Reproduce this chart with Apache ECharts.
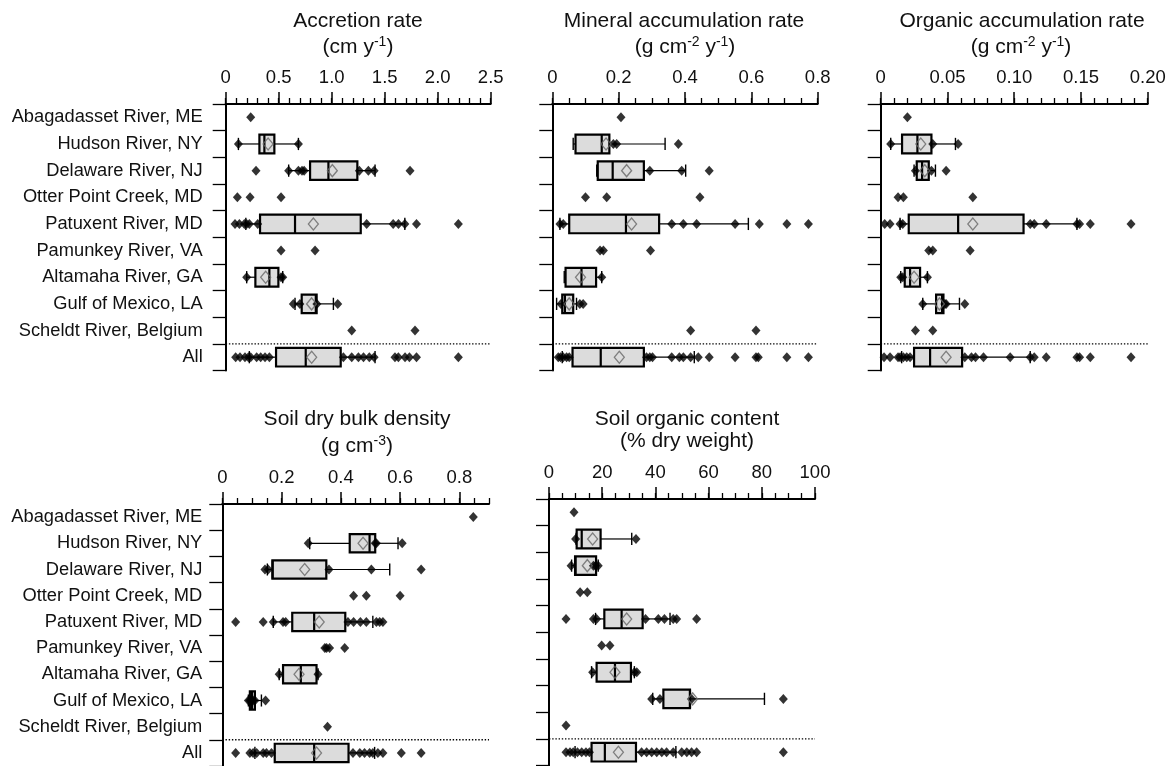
<!DOCTYPE html>
<html>
<head>
<meta charset="utf-8">
<script src="https://cdn.jsdelivr.net/npm/echarts@6/dist/echarts.min.js"></script>
<style>
html,body{margin:0;padding:0;background:#fff;}
#chart{width:1170px;height:766px;}
</style>
</head>
<body>
<div id="chart"></div>
<script>
// ---------- data ----------
const categories = ['Abagadasset River, ME', 'Hudson River, NY', 'Delaware River, NJ', 'Otter Point Creek, MD',
  'Patuxent River, MD', 'Pamunkey River, VA', 'Altamaha River, GA', 'Gulf of Mexico, LA', 'Scheldt River, Belgium', 'All'];

// Accretion rate (cm/y): [whisker low, Q1, median, Q3, whisker high]
const accBox = [null, [0.12, 0.318, 0.365, 0.459, 0.686], [0.594, 0.796, 0.969, 1.242, 1.409], null,
  [0.19, 0.324, 0.654, 1.274, 1.69], null, [0.198, 0.28, 0.412, 0.497, 0.538], [0.654, 0.717, 0.85, 0.858, 1.016],
  null, [0.223, 0.475, 0.755, 1.085, 1.409]];
const accMean = [null, 0.40, 1.006, null, 0.827, null, 0.377, 0.81, null, 0.811];
const accPts = [
  [0.236],
  [0.12, 0.686],
  [0.286, 0.594, 0.686, 0.72, 0.74, 1.261, 1.346, 1.40, 1.739],
  [0.11, 0.23, 0.522],
  [0.088, 0.129, 0.176, 0.198, 0.223, 0.302, 1.33, 1.58, 1.63, 1.69, 1.80, 2.195],
  [0.522, 0.843],
  [0.198, 0.522, 0.538],
  [0.638, 0.70, 0.86, 1.057],
  [1.189, 1.786],
  [0.094, 0.135, 0.182, 0.214, 0.236, 0.292, 0.33, 0.371, 0.412, 1.11, 1.189, 1.252, 1.30, 1.355, 1.40, 1.597, 1.629, 1.692, 1.733, 1.80, 2.195]
];
const accTicks = ['0', '0.5', '1.0', '1.5', '2.0', '2.5'];

// Mineral accumulation rate
const minBox = [null, [0.063, 0.070, 0.149, 0.172, 0.340], [0.134, 0.137, 0.182, 0.276, 0.402], null,
  [0.023, 0.051, 0.222, 0.322, 0.591], null, [0.036, 0.040, 0.088, 0.132, 0.149], [0.013, 0.030, 0.038, 0.063, 0.073],
  null, [0.030, 0.061, 0.146, 0.276, 0.428]];
const minMean = [null, 0.162, 0.224, null, 0.239, null, 0.085, 0.051, null, 0.202];
const minPts = [
  [0.207],
  [0.184, 0.194, 0.38],
  [0.294, 0.39, 0.473],
  [0.10, 0.164, 0.445],
  [0.023, 0.033, 0.36, 0.395, 0.435, 0.551, 0.624, 0.707, 0.772],
  [0.144, 0.154, 0.296],
  [0.149],
  [0.026, 0.083, 0.093],
  [0.417, 0.614],
  [0.018, 0.025, 0.033, 0.043, 0.051, 0.284, 0.294, 0.302, 0.36, 0.383, 0.395, 0.417, 0.44, 0.473, 0.551, 0.614, 0.621, 0.707, 0.772]
];
const minTicks = ['0', '0.2', '0.4', '0.6', '0.8'];

// Organic accumulation rate
const orgBox = [null, [0.0075, 0.016, 0.0275, 0.038, 0.056], [0.025, 0.027, 0.031, 0.036, 0.041], null,
  [0.0145, 0.021, 0.058, 0.107, 0.147], null, [0.015, 0.018, 0.022, 0.0295, 0.035], [0.0315, 0.0415, 0.046, 0.047, 0.059],
  null, [0.0157, 0.025, 0.037, 0.061, 0.112]];
const orgMean = [null, 0.030, 0.033, null, 0.069, null, 0.025, 0.044, null, 0.049];
const orgPts = [
  [0.020],
  [0.0075, 0.039, 0.058],
  [0.026, 0.038, 0.049],
  [0.013, 0.017, 0.069],
  [0.003, 0.007, 0.0145, 0.0165, 0.112, 0.115, 0.124, 0.147, 0.149, 0.157, 0.1875],
  [0.036, 0.039, 0.067],
  [0.015, 0.0165, 0.035],
  [0.0315, 0.048, 0.049, 0.063],
  [0.026, 0.039],
  [0.0025, 0.007, 0.013, 0.0145, 0.017, 0.0195, 0.022, 0.063, 0.068, 0.071, 0.077, 0.097, 0.112, 0.115, 0.124, 0.147, 0.149, 0.157, 0.1875]
];
const orgTicks = ['0', '0.05', '0.10', '0.15', '0.20'];

// Soil dry bulk density
const bdBox = [null, [0.295, 0.43, 0.497, 0.516, 0.593], [0.152, 0.169, 0.17, 0.351, 0.565], null,
  [0.172, 0.236, 0.31, 0.415, 0.508], null, [0.192, 0.205, 0.265, 0.318, 0.323], [0.088, 0.093, 0.10, 0.11, 0.132],
  null, [0.11, 0.177, 0.31, 0.426, 0.514]];
const bdMean = [null, 0.475, 0.278, null, 0.327, null, 0.259, null, null, 0.318];
const bdPts = [
  [0.847],
  [0.29, 0.516, 0.52, 0.607],
  [0.144, 0.155, 0.36, 0.503, 0.671],
  [0.443, 0.486, 0.60],
  [0.045, 0.138, 0.172, 0.205, 0.214, 0.424, 0.443, 0.466, 0.486, 0.52, 0.531, 0.542],
  [0.346, 0.352, 0.362, 0.413],
  [0.192, 0.323],
  [0.088, 0.093, 0.098, 0.104, 0.11, 0.146],
  [0.355],
  [0.045, 0.093, 0.104, 0.116, 0.138, 0.149, 0.166, 0.441, 0.464, 0.48, 0.497, 0.508, 0.525, 0.542, 0.604, 0.671]
];
const bdTicks = ['0', '0.2', '0.4', '0.6', '0.8'];

// Soil organic content (% dry weight)
const ocBox = [null, [10.2, 10.4, 12.3, 19.4, 31.1], [8.5, 9.8, 10.0, 17.7, 18.5], null,
  [17.5, 20.8, 27.3, 35.2, 45.5], null, [16.0, 17.9, 24.8, 30.8, 32.1], [39.0, 43.0, 53.0, 53.0, 81.0],
  null, [9.8, 16.0, 21.0, 32.7, 47.7]];
const ocMean = [null, 16.4, 14.4, null, 29.2, null, 24.8, 54.0, null, 26.1];
const ocPts = [
  [9.4],
  [10.0, 32.7],
  [8.3, 16.7, 17.5, 18.5],
  [11.7, 14.4],
  [6.4, 16.7, 17.9, 36.3, 41.1, 43.4, 46.7, 48.0, 55.5],
  [19.8, 22.9],
  [16.4, 32.1, 33.0],
  [38.6, 41.7, 53.6, 88.1],
  [6.4],
  [6.4, 7.9, 9.1, 10.7, 12.3, 13.9, 15.2, 34.8, 36.7, 38.6, 40.5, 42.4, 44.2, 46.7, 49.9, 51.8, 53.6, 55.5, 88.1]
];
const ocTicks = ['0', '20', '40', '60', '80', '100'];

// ---------- layout / styles ----------
const FONT = "'Liberation Sans', Arial, Helvetica, sans-serif";
const panels = [
  {box: accBox, mean: accMean, pts: accPts, ticks: accTicks, max: 2.5, major: 0.5, minor: 0.1,
   grid: {left: 225.7, top: 104, width: 265, height: 266.5}, labels: true, labelMargin: 23},
  {box: minBox, mean: minMean, pts: minPts, ticks: minTicks, max: 0.8, major: 0.2, minor: 0.05,
   grid: {left: 552.3, top: 104, width: 265.4, height: 266.5}, labels: false},
  {box: orgBox, mean: orgMean, pts: orgPts, ticks: orgTicks, max: 0.2, major: 0.05, minor: 0.01,
   grid: {left: 880.7, top: 104, width: 267, height: 266.5}, labels: false},
  {box: bdBox, mean: bdMean, pts: bdPts, ticks: bdTicks, max: 0.9, major: 0.2, minor: 0.05,
   grid: {left: 222.3, top: 504, width: 266.7, height: 266.5}, labels: true, labelMargin: 20},
  {box: ocBox, mean: ocMean, pts: ocPts, ticks: ocTicks, max: 100, major: 20, minor: 5,
   grid: {left: 549, top: 499, width: 266, height: 266.5}, labels: false}
];

const grids = [], xAxes = [], yAxes = [], series = [];
panels.forEach((p, i) => {
  grids.push(Object.assign({containLabel: false}, p.grid));
  // main axis: line, labels, short (minor) ticks
  xAxes.push({
    type: 'value', gridIndex: i, position: 'top', min: 0, max: p.max, interval: p.minor,
    axisLine: {show: true, onZero: false, lineStyle: {color: '#000', width: 2}},
    axisTick: {show: true, length: 6, lineStyle: {color: '#000', width: 1.3}},
    splitLine: {show: false},
    axisLabel: {
      show: true, margin: 17, fontSize: 18.5, fontFamily: FONT, color: '#111',
      formatter: (v) => {
        const k = Math.round(v / p.major);
        if (Math.abs(v - k * p.major) < p.minor * 0.01 && k < p.ticks.length) return p.ticks[k];
        return '';
      }
    }
  });
  // major tick axis
  xAxes.push({
    type: 'value', gridIndex: i, position: 'top', min: 0, max: p.max, interval: p.major,
    axisLine: {show: false},
    axisTick: {show: true, length: 12, lineStyle: {color: '#000', width: 1.5},
      customValues: p.ticks.map((t, k) => k * p.major)},
    axisLabel: {show: false}, splitLine: {show: false}
  });
  yAxes.push({
    type: 'category', gridIndex: i, data: categories, inverse: true,
    axisLine: {show: true, lineStyle: {color: '#000', width: 2}},
    axisTick: {show: true, length: 13, lineStyle: {color: '#000', width: 1.3}},
    axisLabel: {show: p.labels, margin: p.labelMargin || 20, fontSize: 18.3, fontFamily: FONT, color: '#111'},
    splitLine: {show: false}
  });
  const xi = 2 * i;
  // separator (dotted) above "All"
  series.push({
    type: 'custom', xAxisIndex: xi, yAxisIndex: i, z: 1, silent: true,
    data: [[categories.length - 1, 0, p.max]],
    encode: {x: [1, 2], y: 0},
    renderItem: (params, api) => {
      const c = api.value(0);
      const bw = api.size([0, 1])[1];
      const a = api.coord([api.value(1), c]);
      const b = api.coord([api.value(2), c]);
      const y = a[1] - bw / 2;
      return {type: 'line', shape: {x1: a[0], y1: y, x2: b[0], y2: y},
        style: {stroke: '#000', lineWidth: 1.4, lineDash: [1.4, 1.8]}};
    }
  });
  // boxes
  const boxData = [];
  p.box.forEach((b, c) => { if (b) boxData.push([c].concat(b)); });
  series.push({
    type: 'custom', xAxisIndex: xi, yAxisIndex: i, z: 2, silent: true,
    data: boxData, encode: {x: [1, 2, 3, 4, 5], y: 0},
    renderItem: (params, api) => {
      const c = api.value(0);
      const bw = api.size([0, 1])[1];
      const h = bw * 0.70, cap = bw * 0.46;
      const P = [1, 2, 3, 4, 5].map(d => api.coord([api.value(d), c]));
      const y = P[0][1];
      const ln = (x1, y1, x2, y2, w) => ({type: 'line', shape: {x1, y1, x2, y2}, style: {stroke: '#000', lineWidth: w}});
      return {type: 'group', children: [
        ln(P[0][0], y, P[1][0], y, 1.2),
        ln(P[3][0], y, P[4][0], y, 1.2),
        ln(P[0][0], y - cap / 2, P[0][0], y + cap / 2, 1.4),
        ln(P[4][0], y - cap / 2, P[4][0], y + cap / 2, 1.4),
        {type: 'rect', shape: {x: P[1][0], y: y - h / 2, width: P[3][0] - P[1][0], height: h},
          style: {fill: '#dcdcdc', stroke: '#000', lineWidth: 2.2}},
        ln(P[2][0], y - h / 2, P[2][0], y + h / 2, 2.2)
      ]};
    }
  });
  // individual points
  const ptData = [];
  p.pts.forEach((arr, c) => arr.forEach(v => ptData.push([v, c])));
  series.push({
    type: 'scatter', xAxisIndex: xi, yAxisIndex: i, z: 3, silent: true,
    symbol: 'diamond', symbolSize: [9, 10], itemStyle: {color: '#000'},
    data: ptData
  });
  // means
  const meanData = [];
  p.mean.forEach((v, c) => { if (v !== null) meanData.push([v, c]); });
  series.push({
    type: 'scatter', xAxisIndex: xi, yAxisIndex: i, z: 4, silent: true,
    symbol: 'diamond', symbolSize: [10, 12],
    itemStyle: {color: 'rgba(0,0,0,0)', borderColor: '#666', borderWidth: 1.3},
    data: meanData
  });
});

const titleText = (x, y, text, rich) => ({
  type: 'text', x, y, silent: true,
  style: {text, fontSize: 21, fontFamily: FONT, fill: '#111', align: 'center', verticalAlign: 'middle',
    lineHeight: 24, rich: rich || {}}
});
const supRich = {
  m: {fontSize: 21, fontFamily: FONT, fill: '#111', lineHeight: 24},
  s: {fontSize: 14, fontFamily: FONT, fill: '#111', lineHeight: 14, verticalAlign: 'top'}
};

const option = {
  animation: false,
  backgroundColor: '#fff',
  grid: grids, xAxis: xAxes, yAxis: yAxes, series,
  graphic: [
    titleText(358, 21, 'Accretion rate'),
    titleText(358, 47, '{m|(cm y}{s|-1}{m|)}', supRich),
    titleText(684, 21, 'Mineral accumulation rate'),
    titleText(685, 47, '{m|(g cm}{s|-2}{m| y}{s|-1}{m|)}', supRich),
    titleText(1022, 21, 'Organic accumulation rate'),
    titleText(1021, 47, '{m|(g cm}{s|-2}{m| y}{s|-1}{m|)}', supRich),
    titleText(357, 419, 'Soil dry bulk density'),
    titleText(357, 446, '{m|(g cm}{s|-3}{m|)}', supRich),
    titleText(687, 419, 'Soil organic content'),
    titleText(687, 441, '(% dry weight)')
  ]
};
const chart = echarts.init(document.getElementById('chart'), null, {renderer: 'canvas'});
chart.setOption(option);
</script>
</body>
</html>
